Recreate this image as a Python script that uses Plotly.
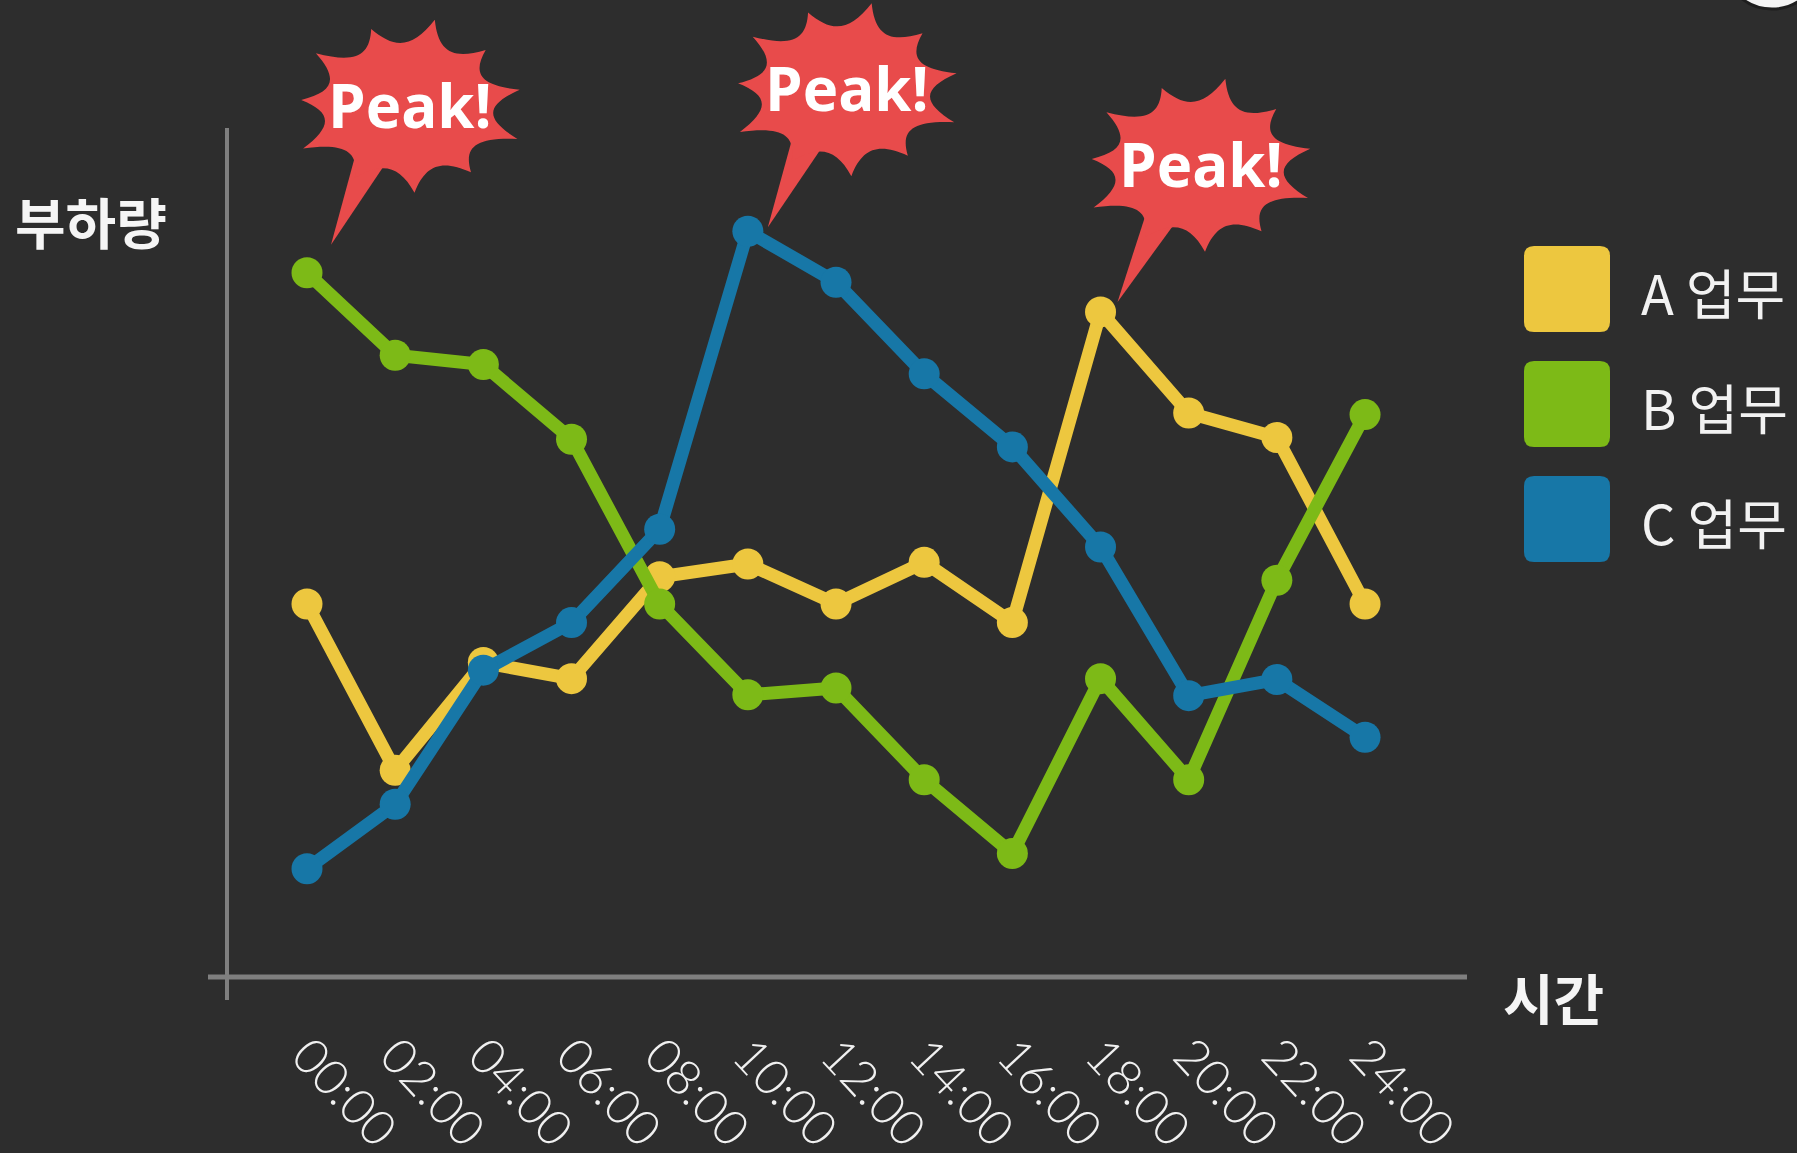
import math
import plotly.graph_objects as go

W, H = 1797, 1153
BG = "#2d2d2d"

# ---------------- data ----------------
times = ["00:00", "02:00", "04:00", "06:00", "08:00", "10:00", "12:00",
         "14:00", "16:00", "18:00", "20:00", "22:00", "24:00"]
series_names = ["A 업무", "B 업무", "C 업무"]
load_a = [44.0, 24.4, 37.1, 35.2, 47.2, 48.7, 44.0, 48.9, 41.8, 78.4, 66.5, 63.6, 44.0]
load_b = [83.0, 73.3, 72.2, 63.4, 44.0, 33.3, 34.1, 23.3, 14.6, 35.2, 23.3, 46.8, 66.3]
load_c = [12.8, 20.4, 36.2, 41.8, 52.8, 87.9, 81.9, 71.1, 62.5, 50.7, 33.2, 35.1, 28.3]
series_colors = ["#EDC73F", "#7DBA17", "#1777A7"]
peak_label = "Peak!"
x_title = "시간"
y_title = "부하량"

all_series = [load_a, load_b, load_c]

# ---------------- layout geometry ----------------
X0_PX = 307.0      # pixel position of first category
X_STEP = 88.17     # pixels per category
Y0_PX = 977.5      # pixel position of value 0
Y_UNIT = 8.49      # pixels per value unit

x_range = [-X0_PX / X_STEP, (W - X0_PX) / X_STEP]
y_range = [-(H - Y0_PX) / Y_UNIT, Y0_PX / Y_UNIT]


def px(x):
    return x / W


def py(y):
    return 1 - y / H


fig = go.Figure()

for name, vals, col in zip(series_names, all_series, series_colors):
    fig.add_trace(go.Scatter(
        x=times, y=vals, name=name, mode="lines+markers",
        line=dict(color=col, width=13),
        marker=dict(color=col, size=31, line=dict(width=0)),
        cliponaxis=False, showlegend=False,
    ))

shapes = []
annotations = []

# axis lines
AX_COL = "#7f7f7f"
shapes.append(dict(type="line", xref="paper", yref="paper",
                   x0=px(227), x1=px(227), y0=py(128), y1=py(1000),
                   line=dict(color=AX_COL, width=4)))
shapes.append(dict(type="line", xref="paper", yref="paper",
                   x0=px(208), x1=px(1467), y0=py(977), y1=py(977),
                   line=dict(color=AX_COL, width=5)))

# ---------------- peak bursts ----------------
RED = "#E84B4B"
# burst centre / tail tip offsets from each series' peak point (px, y up)
burst_centre = [(98, 146), (101, 166), (97, 141)]
tail_tip = [(17, 10), (24, 28), (20, 4)]
RX, RY = 114.0, 86.0
spike_f = [1.0, 0.95, 1.04, 0.96, 1.02, 0.94, 1.04, 0.95, 1.0, 0.94, 1.03]
n = len(spike_f)
phase = 0.2
CTRL_R = 0.68


def burst_path(c):
    step = 2 * math.pi / n
    tips = []
    for k in range(n):
        a = phase + step * k
        tips.append((c[0] + RX * spike_f[k] * math.cos(a),
                     c[1] + RY * spike_f[k] * math.sin(a)))
    d = "M %.1f,%.1f" % tips[0]
    for k in range(n):
        a = phase + step * k
        c1 = (c[0] + RX * CTRL_R * math.cos(a + 0.3 * step),
              c[1] + RY * CTRL_R * math.sin(a + 0.3 * step))
        c2 = (c[0] + RX * CTRL_R * math.cos(a + 0.7 * step),
              c[1] + RY * CTRL_R * math.sin(a + 0.7 * step))
        t1 = tips[(k + 1) % n]
        d += " C %.1f,%.1f %.1f,%.1f %.1f,%.1f" % (c1[0], c1[1], c2[0], c2[1], t1[0], t1[1])
    return d + " Z"


def tail(c, t):
    return "M %.1f,%.1f L %.1f,%.1f L %.1f,%.1f Z" % (
        t[0], t[1], c[0] - 52, c[1] - 46, c[0] - 14, c[1] - 44)


for vals, c, t in zip(all_series, burst_centre, tail_tip):
    i = max(range(len(vals)), key=lambda k: vals[k])
    for pth in (tail(c, t), burst_path(c)):
        shapes.append(dict(type="path", xref="x", yref="y",
                           xsizemode="pixel", ysizemode="pixel",
                           xanchor=times[i], yanchor=vals[i], path=pth,
                           fillcolor=RED, line=dict(width=0)))
    annotations.append(dict(x=times[i], y=vals[i], xref="x", yref="y",
                            xanchor="center", yanchor="middle",
                            xshift=c[0] + 2, yshift=c[1] + 2, showarrow=False,
                            text="<b>%s</b>" % peak_label,
                            font=dict(family="Open Sans", size=60, color="white")))

# ---------------- legend (drawn) ----------------
LEG_X = 1567
LEG_Y = [289, 404, 519]
h, r = 43, 10
rr = ("M %d,%d L %d,%d Q %d,%d %d,%d L %d,%d Q %d,%d %d,%d L %d,%d Q %d,%d %d,%d "
      "L %d,%d Q %d,%d %d,%d Z") % (
    -h + r, -h, h - r, -h, h, -h, h, -h + r, h, h - r, h, h, h - r, h,
    -h + r, h, -h, h, -h, h - r, -h, -h + r, -h, -h, -h + r, -h)
for name, col, yy in zip(series_names, series_colors, LEG_Y):
    shapes.append(dict(type="path", xref="paper", yref="paper",
                       xsizemode="pixel", ysizemode="pixel",
                       xanchor=px(LEG_X), yanchor=py(yy), path=rr,
                       fillcolor=col, line=dict(width=0)))
    annotations.append(dict(x=px(1639), y=py(yy + 2), xref="paper", yref="paper",
                            xanchor="left", yanchor="middle", showarrow=False,
                            text=name,
                            font=dict(family="Noto Sans CJK KR", size=54, color="#f2f2f2")))

# axis titles
annotations.append(dict(x=px(91), y=py(220), xref="paper", yref="paper",
                        xanchor="center", yanchor="middle",
                        showarrow=False, text="<b>%s</b>" % y_title,
                        font=dict(family="Noto Sans CJK KR", size=55, color="#f5f5f5")))
annotations.append(dict(x=px(1553), y=py(996), xref="paper", yref="paper",
                        xanchor="center", yanchor="middle",
                        showarrow=False, text="<b>%s</b>" % x_title,
                        font=dict(family="Noto Sans CJK KR", size=55, color="#f5f5f5")))

# white circle at top-right corner
shapes.append(dict(type="circle", xref="paper", yref="paper",
                   x0=px(1723), x1=px(1821), y0=py(9), y1=py(-89),
                   fillcolor="#f4f4f4", line=dict(color="#1e1e1e", width=3)))

fig.update_layout(
    width=W, height=H,
    paper_bgcolor=BG, plot_bgcolor=BG,
    margin=dict(l=0, r=0, t=0, b=0, pad=0, autoexpand=False),
    shapes=shapes, annotations=annotations,
    showlegend=False,
    xaxis=dict(type="category", range=x_range, anchor="free", position=py(977),
               automargin=False,
               showgrid=False, zeroline=False, showline=False,
               ticks="outside", ticklen=29, tickcolor="rgba(0,0,0,0)",
               tickangle=47,
               tickfont=dict(family="Lato", size=49, weight=300, color="#f0f0f0")),
    yaxis=dict(range=y_range, automargin=False, showgrid=False, zeroline=False,
               showline=False, showticklabels=False, ticks=""),
)

fig.write_html("out.html", config={"displayModeBar": False},
               post_script="document.body.style.margin='0';document.body.style.overflow='hidden';")
